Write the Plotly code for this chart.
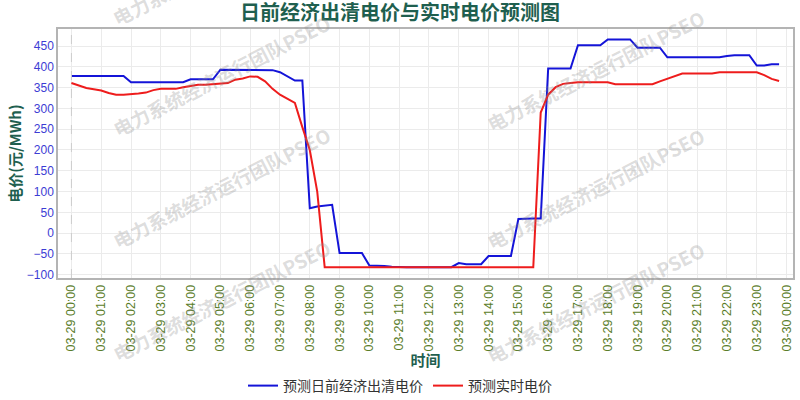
import pandas as pd
import plotly.graph_objects as go

times = pd.date_range("2024-03-29 00:00", periods=96, freq="15min")

day_ahead = (
    [378] * 8 + [363] * 8 + [370] * 4 + [393] * 7 +
    [392, 387, 377, 367, 367] +
    [60, 64, 66, 68] + [-48] * 4 + [-78, -78, -79, -81] + [-82] * 8 +
    [-72, -75, -75, -75] + [-55] * 4 + [34, 35, 35, 35] +
    [396] * 4 + [452] * 4 + [466] * 4 + [446] * 4 + [423] * 8 +
    [426, 428, 428, 428] + [403, 403, 406, 406]
)

real_time = (
    [361, 355, 349, 346, 343, 337, 333, 333,
     334, 336, 338, 344, 347, 347, 347, 351,
     354, 357, 357, 358, 360, 361, 369, 372,
     377, 376, 365, 347, 333, 322, 313, 255,
     200, 100] + [-82] * 29 + [290,
     333, 351, 359, 361, 363, 363, 363, 363, 363,
     358, 358, 358, 358, 358, 358,
     365, 371, 377, 384, 384, 384, 384, 384,
     387, 387, 387, 387, 387, 387,
     380, 371, 366]
)

series_names = ["预测日前经济出清电价", "预测实时电价"]
title_text = "日前经济出清电价与实时电价预测图"
y_title = "电价(元/MWh)"
x_title = "时间"
watermark = "电力系统经济运行团队PSEO"

fig = go.Figure()
fig.add_trace(go.Scatter(x=times, y=day_ahead, mode="lines", name=series_names[0],
                         line=dict(color="#1414d8", width=2)))
fig.add_trace(go.Scatter(x=times, y=real_time, mode="lines", name=series_names[1],
                         line=dict(color="#ee1c1c", width=2)))

green = "#1f5f4f"
fig.update_layout(
    width=800, height=400,
    margin=dict(l=58, r=7, t=29, b=122),
    paper_bgcolor="white", plot_bgcolor="white",
    font=dict(family="Noto Sans CJK SC, Liberation Sans, Arial, sans-serif"),
    title=dict(text="<b>" + title_text + "</b>", x=0.5, xanchor="center",
               y=1.0, yanchor="top", pad=dict(t=6),
               font=dict(size=20, color=green)),
    showlegend=True,
    legend=dict(orientation="h", x=0.5, xanchor="center", xref="container",
                y=1 - 386 / 400, yanchor="middle", yref="container",
                font=dict(size=14, color="#333333"), itemwidth=30,
                bgcolor="rgba(0,0,0,0)"),
)

fig.update_xaxes(
    automargin=False,
    range=[pd.Timestamp("2024-03-28 23:33"), pd.Timestamp("2024-03-30 00:13")],
    dtick=3600000, tick0=times[0], tickformat="%m-%d %H:%M", tickangle=-90,
    ticklabeloverflow="allow",
    tickfont=dict(size=12.5, color="#5a7d2a", family="Liberation Sans, Arial"),
    showgrid=True, gridcolor="#ebebeb", gridwidth=1,
    showline=True, linecolor="#b4b4b4", linewidth=1.5, mirror=True,
    zeroline=False,
    title=dict(text="<b>" + x_title + "</b>", font=dict(size=15, color=green), standoff=11),
)
fig.update_yaxes(
    automargin=False,
    range=[-108, 491], dtick=50, tick0=0,
    tickfont=dict(size=12, color="#3c3cd4", family="Liberation Sans, Arial"),
    showgrid=True, gridcolor="#ebebeb", gridwidth=1,
    showline=True, linecolor="#b4b4b4", linewidth=1.5, mirror=True,
    zeroline=False,
    title=dict(text="<b>" + y_title + "</b>", font=dict(size=15, color=green), standoff=2),
)

fig.add_vline(x=times[0], line=dict(color="#cccccc", width=1, dash="dash"))

# watermarks (pixel centers converted to paper coordinates)
L, T, W, H = 58, 29, 735, 249
for cx, cy in [(221, -35), (221, 75), (221, 187), (221, 300),
               (595, 70), (595, 188), (595, 302)]:
    fig.add_annotation(text="<b>" + watermark + "</b>", xref="paper", yref="paper",
                       x=(cx - L) / W, y=(T + H - cy) / H, showarrow=False,
                       textangle=-27, font=dict(size=19, color="rgba(140,140,140,0.30)"),
                       xanchor="center", yanchor="middle")

fig.write_html("out.html", config={"displayModeBar": False},
               post_script="document.body.style.margin='0px';document.body.style.overflow='hidden';")
